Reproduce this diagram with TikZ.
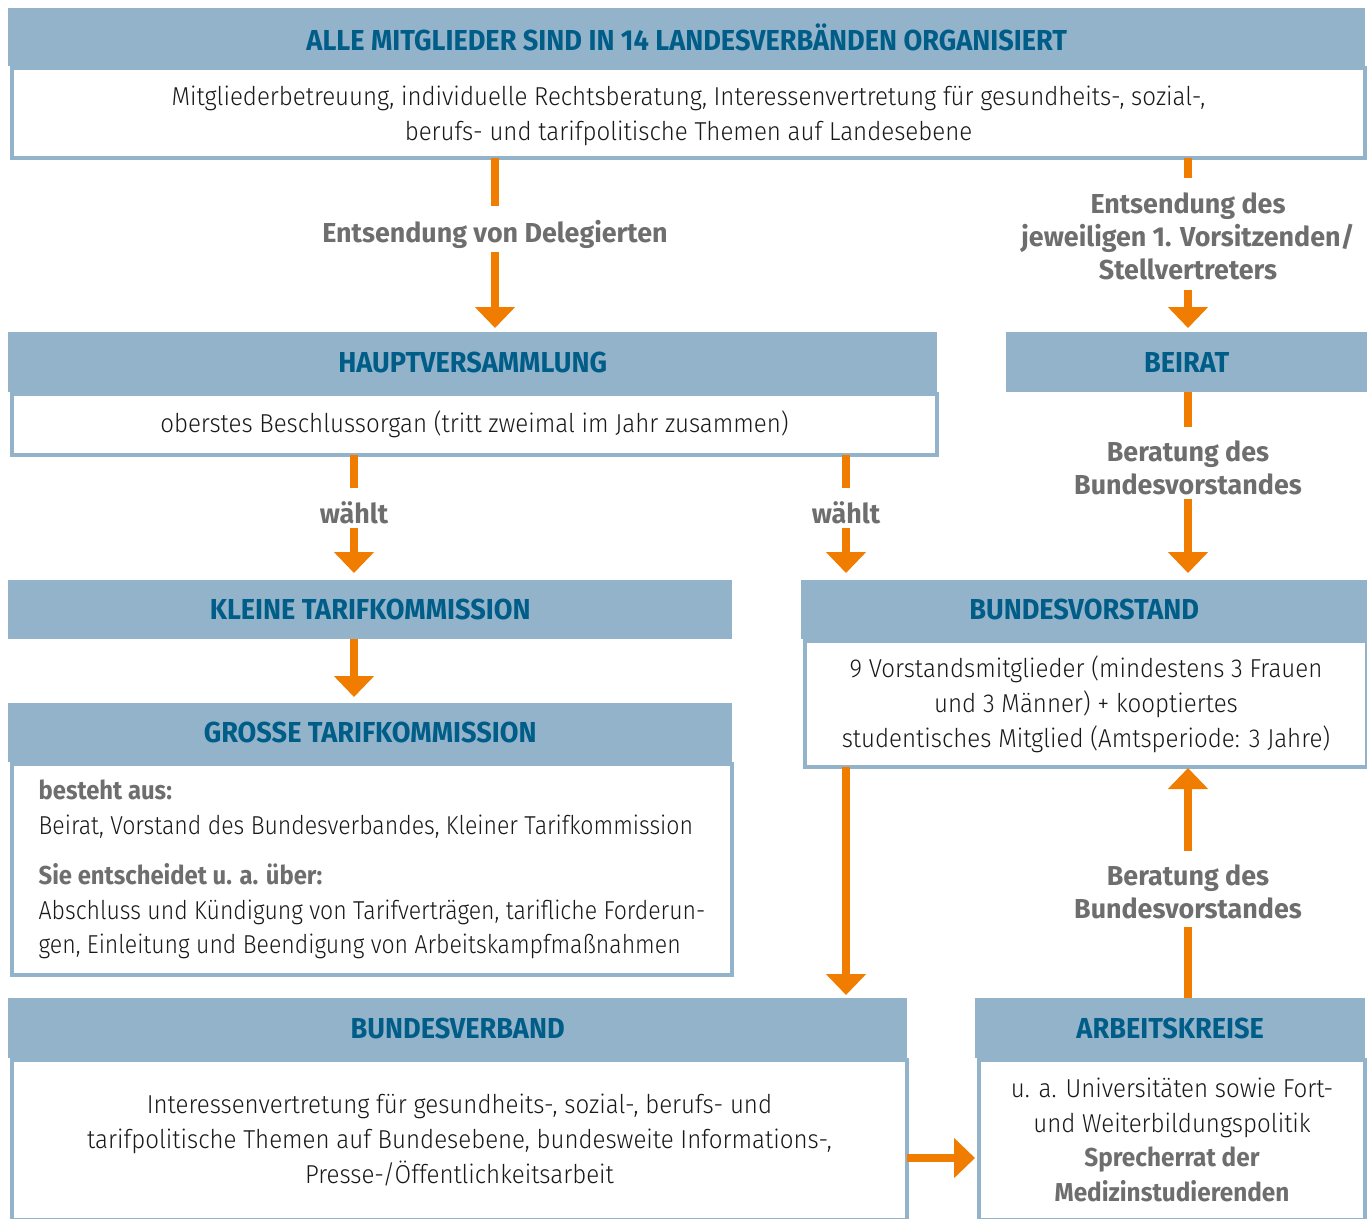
\documentclass[tikz,border=0pt]{standalone}
\usepackage{fontspec}
\usetikzlibrary{arrows.meta}
\newfontfamily\headf{Fira Sans}[FakeStretch=0.94]
\newfontfamily\headfc{Fira Sans}[FakeStretch=0.92]
\newfontfamily\labff{Fira Sans}[FakeStretch=0.98]
\newfontfamily\bodyf{Fira Sans Light}[FakeStretch=0.93]
\newfontfamily\bodyfc{Fira Sans Light}[FakeStretch=0.89]
\definecolor{hdrblue}{RGB}{147,179,203}
\definecolor{hdrtext}{RGB}{0,93,135}
\definecolor{org}{RGB}{240,125,0}
\definecolor{lblgray}{RGB}{110,110,110}
\definecolor{bodytxt}{RGB}{25,25,25}
\begin{document}
\begin{tikzpicture}[x=1bp,y=-1bp,
  hdr/.style={fill=hdrblue, inner sep=0pt, anchor=north west, text=hdrtext,
    font=\headf\bfseries\fontsize{29}{31}\selectfont},
  bodybox/.style={fill=white, draw=hdrblue, line width=4bp, inner sep=0pt, anchor=north west,
    text=bodytxt, align=center, font=\bodyf\fontsize{26}{35}\selectfont},
  lbl/.style={font=\labff\bfseries\fontsize{27.5}{33}\selectfont, text=lblgray, align=center, inner sep=0pt},
  arr/.style={draw=org, line width=8bp, -{Triangle[width=39bp,length=21bp]}},
  seg/.style={draw=org, line width=8bp}]
\useasboundingbox (0,0) rectangle (1367,1218);
\fill[white] (0,0) rectangle (1367,1218);
\newcommand\lb[1]{{\headf\bfseries\color{lblgray}#1}}
\newcommand\lbc[1]{{\headfc\bfseries\color{lblgray}#1}}
\begin{scope}
\clip (0,0) rectangle (1367,1218);
% top
\node[hdr, minimum width=1357bp, minimum height=58bp] (toph) at (8,8) {ALLE MITGLIEDER SIND IN 14 LANDESVERBÄNDEN ORGANISIERT};
\node[bodybox, minimum width=1353bp, minimum height=90bp, text depth=0bp] (topb) at (10,66) {Mitgliederbetreuung, individuelle Rechtsberatung, Interessenvertretung für gesundheits-, sozial-,\\ berufs- und tarifpolitische Themen auf Landesebene};
% Hauptversammlung
\node[hdr, minimum width=929bp, minimum height=60bp] (hvh) at (8,332) {HAUPTVERSAMMLUNG};
\node[bodybox, minimum width=925bp, minimum height=61bp] (hvb) at (10,392) {oberstes Beschlussorgan (tritt zweimal im Jahr zusammen)};
% Beirat
\node[hdr, minimum width=361bp, minimum height=60bp] (beirat) at (1006,332) {BEIRAT};
% Kleine TK
\node[hdr, minimum width=724bp, minimum height=59bp] (kt) at (8,580) {KLEINE TARIFKOMMISSION};
% Grosse TK
\node[hdr, minimum width=724bp, minimum height=59bp] (gth) at (8,703) {GROSSE TARIFKOMMISSION};
\node[bodybox, align=left, font=\bodyfc\fontsize{26}{35}\selectfont, minimum width=720bp, minimum height=211bp] (gtb) at (10,762) {\lbc{besteht aus:}\\ Beirat, Vorstand des Bundesverbandes, Kleiner Tarifkommission\\[15bp] \lbc{Sie entscheidet u. a. über:}\\ Abschluss und Kündigung von Tarifverträgen, tarifliche Forderun-\\ gen, Einleitung und Beendigung von Arbeitskampfmaßnahmen};
% Bundesvorstand
\node[hdr, minimum width=566bp, minimum height=59bp] (bvsth) at (801,580) {BUNDESVORSTAND};
\node[bodybox, minimum width=562bp, minimum height=126bp] (bvstb) at (803,639) {9 Vorstandsmitglieder (mindestens 3 Frauen\\ und 3 Männer) + kooptiertes\\ studentisches Mitglied (Amtsperiode: 3 Jahre)};
% Bundesverband
\node[hdr, minimum width=899bp, minimum height=60bp] (bverbh) at (8,998) {BUNDESVERBAND};
\node[bodybox, minimum width=895bp, minimum height=160bp] (bverbb) at (10,1058) {Interessenvertretung für gesundheits-, sozial-, berufs- und\\ tarifpolitische Themen auf Bundesebene, bundesweite Informations-,\\ Presse-/Öffentlichkeitsarbeit};
% Arbeitskreise
\node[hdr, minimum width=390bp, minimum height=60bp] (akh) at (975,998) {ARBEITSKREISE};
\node[bodybox, minimum width=386bp, minimum height=160bp] (akb) at (977,1058) {u. a. Universitäten sowie Fort-\\ und Weiterbildungspolitik\\ \lb{Sprecherrat der}\\ \lb{Medizinstudierenden}};
\end{scope}
% labels
\node[lbl] (l1) at (495,234) {Entsendung von Delegierten};
\node[lbl] (l2) at (1188,236) {Entsendung des\\ jeweiligen 1. Vorsitzenden/\\ Stellvertreters};
\node[lbl] (l3) at (1188,468) {Beratung des\\ Bundesvorstandes};
\node[lbl] (l4) at (354,513) {wählt};
\node[lbl] (l5) at (846,513) {wählt};
\node[lbl] (l6) at (1188,892) {Beratung des\\ Bundesvorstandes};
\coordinate (h1) at (907,1158);
% connectors
\draw[seg, shorten <=-2bp, shorten >=14bp] (topb.south -| l1) -- (l1.north);
\draw[arr, shorten <=4bp, shorten >=4bp] (l1.south) -- (hvh.north -| l1);
\draw[seg, shorten <=-2bp, shorten >=14bp] (topb.south -| l2) -- (l2.north);
\draw[arr, shorten <=10bp, shorten >=4bp] (l2.south) -- (beirat.north -| l2);
\draw[seg, shorten >=14bp] (beirat.south -| l3) -- (l3.north);
\draw[arr, shorten <=4bp, shorten >=7bp] (l3.south) -- (bvsth.north -| l3);
\draw[seg, shorten <=-2bp, shorten >=14bp] (hvb.south -| l4) -- (l4.north);
\draw[arr, shorten <=4bp, shorten >=7bp] (l4.south) -- (kt.north -| l4);
\draw[seg, shorten <=-2bp, shorten >=14bp] (hvb.south -| l5) -- (l5.north);
\draw[arr, shorten <=4bp, shorten >=7bp] (l5.south) -- (bvsth.north -| l5);
\draw[arr, shorten >=6bp] (kt.south -| l4) -- (gth.north -| l4);
\draw[arr, shorten <=-2bp, shorten >=3bp] (bvstb.south -| l5) -- (bverbh.north -| l5);
\draw[seg, shorten >=8bp] (akh.north -| l6) -- (l6.south);
\draw[arr, shorten <=14bp, shorten >=-1bp] (l6.north) -- (bvstb.south -| l6);
\draw[arr, shorten >=2bp] (h1) -- (akb.west |- h1);
\end{tikzpicture}
\end{document}
